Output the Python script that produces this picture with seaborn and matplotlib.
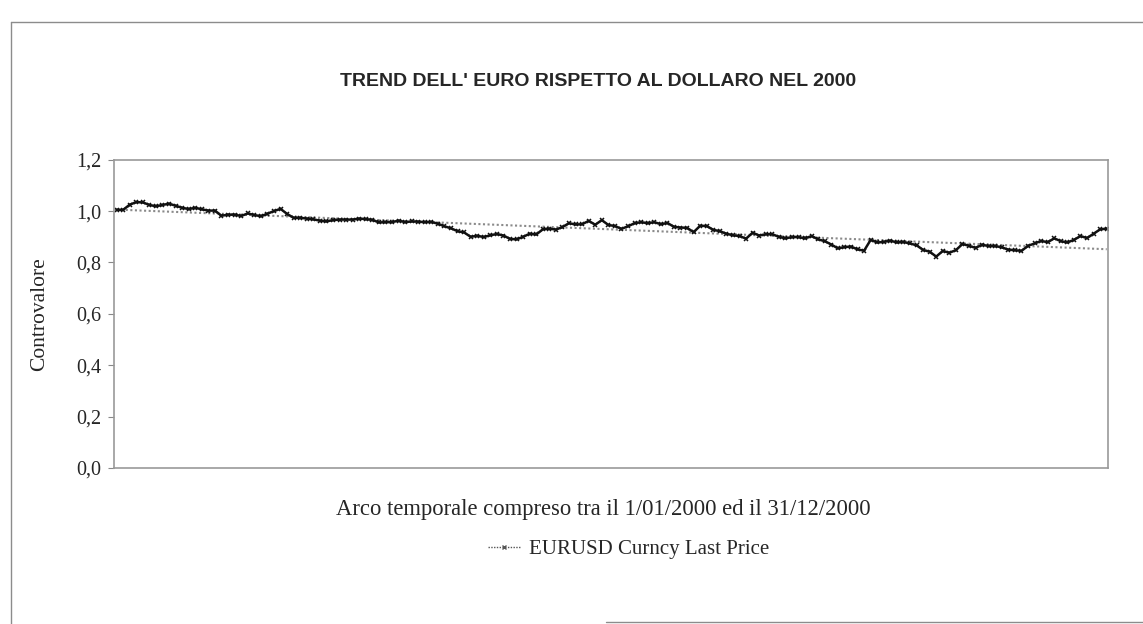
import numpy as np
import pandas as pd
import matplotlib
matplotlib.use("Agg")
import matplotlib.pyplot as plt
from matplotlib.lines import Line2D
import seaborn as sns

title = "TREND DELL' EURO RISPETTO AL DOLLARO NEL 2000"
y_label = "Controvalore"
x_label = "Arco temporale compreso tra il 1/01/2000 ed il 31/12/2000"
series_name = "EURUSD Curncy Last Price"
y_ticks = [0.0, 0.2, 0.4, 0.6, 0.8, 1.0, 1.2]
y_tick_labels = ["0,0", "0,2", "0,4", "0,6", "0,8", "1,0", "1,2"]

eurusd = [
    1.005, 1.005, 1.025, 1.035, 1.034, 1.024, 1.019, 1.024, 1.029, 1.021,
    1.013, 1.008, 1.013, 1.007, 1.002, 1.002, 0.982, 0.986, 0.986, 0.981,
    0.991, 0.985, 0.980, 0.990, 1.000, 1.009, 0.989, 0.974, 0.974, 0.971,
    0.968, 0.963, 0.960, 0.965, 0.967, 0.967, 0.967, 0.971, 0.969, 0.966,
    0.956, 0.957, 0.957, 0.963, 0.957, 0.960, 0.959, 0.957, 0.958, 0.951,
    0.941, 0.933, 0.922, 0.917, 0.900, 0.904, 0.899, 0.906, 0.911, 0.905,
    0.892, 0.890, 0.900, 0.912, 0.909, 0.929, 0.932, 0.928, 0.938, 0.953,
    0.948, 0.949, 0.962, 0.947, 0.965, 0.946, 0.942, 0.931, 0.941, 0.953,
    0.957, 0.953, 0.957, 0.949, 0.954, 0.939, 0.936, 0.935, 0.918, 0.943,
    0.942, 0.927, 0.922, 0.912, 0.906, 0.903, 0.893, 0.916, 0.905, 0.910,
    0.910, 0.900, 0.894, 0.899, 0.899, 0.894, 0.903, 0.890, 0.883, 0.870,
    0.855, 0.860, 0.862, 0.851, 0.846, 0.888, 0.878, 0.880, 0.885, 0.878,
    0.880, 0.874, 0.867, 0.849, 0.842, 0.823, 0.845, 0.838, 0.848, 0.872,
    0.865, 0.857, 0.869, 0.864, 0.864, 0.859, 0.850, 0.848, 0.845, 0.865,
    0.874, 0.884, 0.879, 0.894, 0.883, 0.878, 0.888, 0.903, 0.895, 0.912,
    0.929, 0.932,
]

df = pd.DataFrame({"t": np.arange(len(eurusd)), "price": eurusd})

sns.set_theme(style="white")
plt.rcParams["font.family"] = ["Liberation Serif", "DejaVu Serif"]

fig = plt.figure(figsize=(11.43, 6.24), dpi=100)
ax = fig.add_axes([0.0997, 0.25, 0.8697, 0.494])

sns.regplot(data=df, x="t", y="price", scatter=False, ci=None, ax=ax,
            line_kws=dict(color="#8a8a8a", linestyle=(0, (1, 1.2)), linewidth=1.5))
sns.lineplot(data=df, x="t", y="price", ax=ax, color="#111111", linewidth=1.8,
             marker="x", markersize=3.2, markeredgewidth=1.1, markeredgecolor="#111111")

ax.set_xlim(-0.4, len(eurusd) - 1 + 0.2)
ax.set_ylim(0, 1.2)
ax.set_yticks(y_ticks)
ax.set_yticklabels(y_tick_labels, fontsize=14.5, family="Liberation Serif")
ax.set_xticks([])
ax.set_xlabel("")
ax.set_ylabel("")
ax.tick_params(axis="y", which="both", left=True, length=4, width=0.8,
               color="#888888", pad=5)
for s in ax.spines.values():
    s.set_visible(True)
    s.set_color("#999999")
    s.set_linestyle((0, (1, 1)))
    s.set_linewidth(1.2)

fig.text(0.523, 0.870, title, ha="center", va="center", fontsize=14,
         fontweight="bold", family="Liberation Sans")
fig.text(0.035, 0.497, y_label, ha="center", va="center", rotation=90,
         fontsize=15.5, family="Liberation Serif")
fig.text(0.528, 0.184, x_label, ha="center", va="center", fontsize=16.3,
         family="Liberation Serif")

handle = Line2D([], [], color="#555555", linewidth=1.0, linestyle=(0, (1, 1)),
                marker="x", markersize=3.5, markevery=[1])
leg = fig.legend([handle], [series_name], loc="center", bbox_to_anchor=(0.55, 0.12),
                 frameon=False, prop={"family": "Liberation Serif", "size": 15},
                 handlelength=1.6, handletextpad=0.4)

# outer chart frame
frame_kw = dict(color="#8c8c8c", linewidth=1.0, transform=fig.transFigure)
fig.add_artist(Line2D([0.0096, 1.0], [0.965, 0.965], **frame_kw))
fig.add_artist(Line2D([0.0096, 0.0096], [0.0, 0.965], **frame_kw))
fig.add_artist(Line2D([0.53, 1.0], [0.004, 0.004], **frame_kw))

fig.savefig("out.png", dpi=100, facecolor="white")
